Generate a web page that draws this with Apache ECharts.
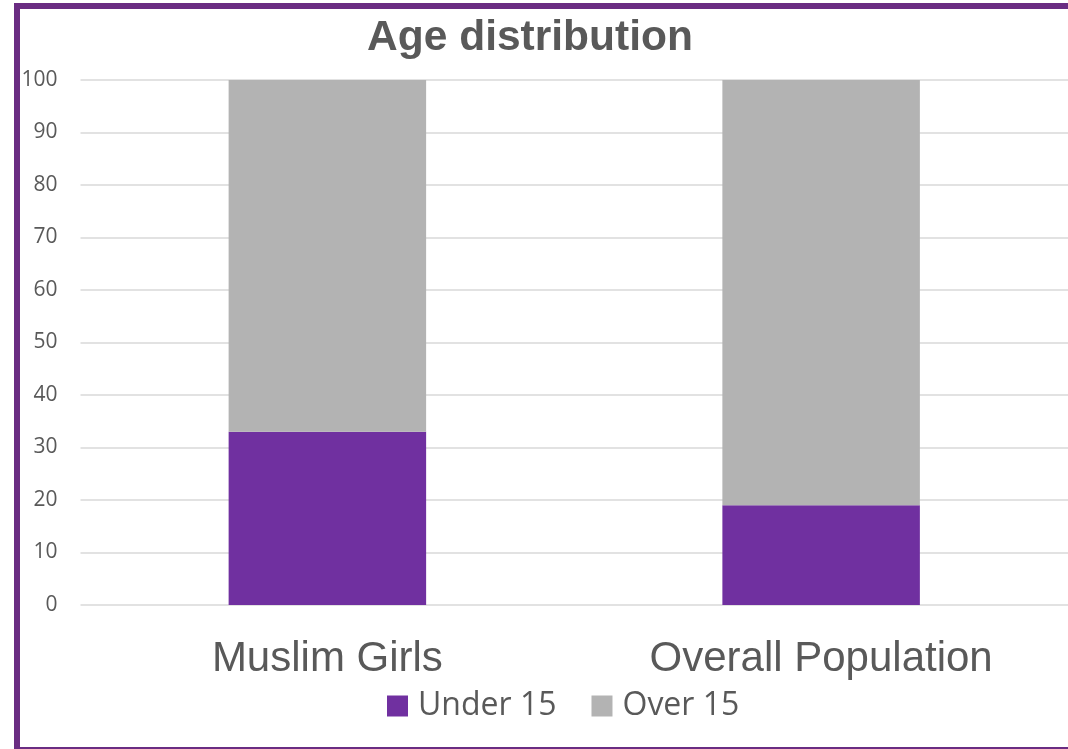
<!DOCTYPE html>
<html><head><meta charset="utf-8">
<script src="https://cdn.jsdelivr.net/npm/echarts@6/dist/echarts.min.js"></script>
<style>html,body{margin:0;padding:0;background:#fff}#c{width:1068px;height:749px}</style>
</head><body><div id="c"></div>
<script>
const categories = ['Muslim Girls', 'Overall Population'];
const under15 = [33, 19];
const over15 = [67, 81];
const yTicks = [0, 10, 20, 30, 40, 50, 60, 70, 80, 90, 100];

const chart = echarts.init(document.getElementById('c'));
chart.setOption({
  animation: false,
  backgroundColor: '#ffffff',
  title: {
    text: 'Age distribution', left: 525, textAlign: 'center', top: 12,
    textStyle: { fontFamily: 'Liberation Sans, Arial', fontWeight: 'bold', fontSize: 42.5, color: '#595959' }
  },
  legend: {
    left: 382, top: 685, itemWidth: 21, itemHeight: 21, itemGap: 35, icon: 'rect',
    textStyle: { fontFamily: 'Open Sans', fontSize: 32, color: '#595959', padding: [0, 0, 0, 5] },
    data: ['Under 15', 'Over 15']
  },
  grid: { left: 80.5, width: 992, top: 80, bottom: 144, containLabel: false },
  xAxis: {
    type: 'category', data: categories,
    axisLine: { show: false }, axisTick: { show: false },
    axisLabel: { fontFamily: 'Liberation Sans, Arial', fontSize: 42, color: '#595959', margin: 33 }
  },
  yAxis: {
    type: 'value', min: yTicks[0], max: yTicks[yTicks.length - 1], interval: 10,
    axisLine: { show: false }, axisTick: { show: false },
    axisLabel: { fontFamily: 'Open Sans', fontSize: 21, color: '#595959', margin: 23 },
    splitLine: { lineStyle: { color: '#D9D9D9', width: 1.5 } }
  },
  series: [
    { name: 'Under 15', type: 'bar', stack: 'a', data: under15, barWidth: '40%', itemStyle: { color: '#7030A0' } },
    { name: 'Over 15', type: 'bar', stack: 'a', data: over15, barWidth: '40%', itemStyle: { color: '#B3B3B3' } }
  ],
  graphic: [{
    type: 'rect', silent: true, z: 100,
    shape: { x: 17, y: 6, width: 1200, height: 744 },
    style: { fill: null, stroke: '#6A2C82', lineWidth: 6 }
  }]
});
</script></body></html>
